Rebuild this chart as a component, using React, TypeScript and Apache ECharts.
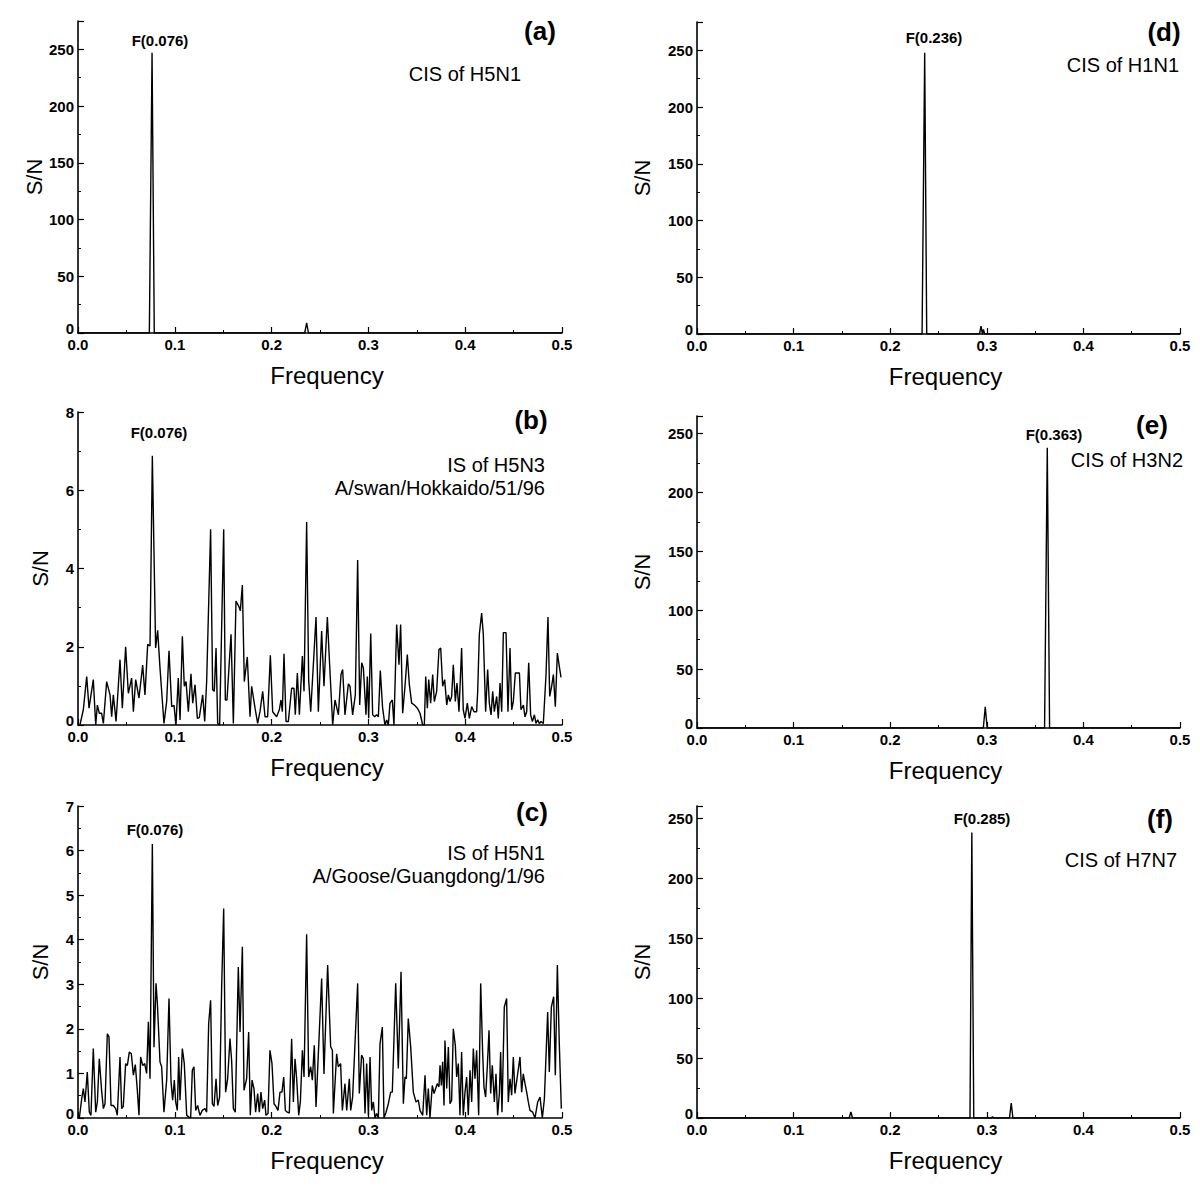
import React, { useEffect, useRef } from "react";
import * as echarts from "echarts";

// ---------- data ----------
const xTickLabels = ["0.0", "0.1", "0.2", "0.3", "0.4", "0.5"];

// (a) CIS of H5N1  [frequency, S/N]
const aPoints: number[][] = [
  [0, 0], [0.0737, 0], [0.0765, 247], [0.0788, 0], [0.2342, 0], [0.2362, 9], [0.2381, 0], [0.5, 0],
];

// (b) IS of H5N3 A/swan/Hokkaido/51/96
const bPoints: number[][] = [
  [0.002, 0], [0.0055, 0.39], [0.009, 1.24], [0.0114, 0.43], [0.0158, 1.16], [0.0183, 0], [0.02, 0.51], [0.022, 0.3],
  [0.0244, 0.3], [0.0262, 0.04], [0.0296, 1.11], [0.0331, 0.77], [0.0348, 0.21], [0.0365, 0.77], [0.0393, 0.09],
  [0.0434, 1.67], [0.0458, 0.43], [0.0492, 2.0], [0.052, 0.81], [0.0554, 1.2], [0.0572, 0.34], [0.0596, 1.16],
  [0.063, 0.69], [0.0668, 1.53], [0.0692, 0.77], [0.072, 2.06], [0.0744, 2.02], [0.0768, 6.88], [0.0802, 1.97],
  [0.0823, 2.42], [0.0847, 1.46], [0.0888, 0.04], [0.0916, 0.6], [0.094, 1.9], [0.0968, 0.47], [0.0992, 0.5],
  [0.1012, 0], [0.1036, 1.2], [0.1054, 0.13], [0.1078, 2.27], [0.1098, 0.99], [0.1116, 1.11], [0.114, 0.34],
  [0.1167, 1.31], [0.1185, 0.56], [0.1209, 1.03], [0.1233, 0.17], [0.1253, 0.19], [0.1288, 0.77], [0.1309, 0.09],
  [0.1329, 1.11], [0.137, 5.0], [0.1391, 0.9], [0.1408, 0.86], [0.1426, 1.97], [0.1443, 0.04], [0.1463, 0],
  [0.1505, 5.0], [0.1522, 0.64], [0.1539, 0.64], [0.1581, 2.32], [0.1605, 0.04], [0.1632, 3.17], [0.166, 3.04],
  [0.1677, 2.92], [0.1698, 3.58], [0.1718, 1.11], [0.1749, 1.74], [0.1777, 0.21], [0.1794, 0.99], [0.1829, 0.43],
  [0.1856, 0.04], [0.188, 0.34], [0.1908, 0.86], [0.1932, 0.21], [0.1959, 0.21], [0.1987, 1.78], [0.2011, 0.34],
  [0.2052, 0.21], [0.208, 0.39], [0.2097, 0.64], [0.2111, 0.34], [0.2128, 1.82], [0.2149, 0.09], [0.2173, 0.09],
  [0.2207, 0.94], [0.2231, 0.94], [0.2245, 0.26], [0.2266, 1.33], [0.2287, 0.26], [0.2318, 1.76], [0.2335, 0.86],
  [0.2362, 5.19], [0.2383, 1.16], [0.2404, 0.34], [0.2459, 2.76], [0.2483, 0.34], [0.2517, 2.4], [0.2541, 0.99],
  [0.2576, 2.76], [0.2596, 1.72], [0.2631, 0], [0.2655, 0.64], [0.269, 0.26], [0.2717, 1.29], [0.2734, 1.42],
  [0.2758, 0.26], [0.2793, 1.05], [0.281, 0.99], [0.2837, 0.26], [0.2865, 0.77], [0.2889, 4.22], [0.291, 0.51],
  [0.2931, 1.59], [0.2948, 1.46], [0.2975, 0.26], [0.2989, 1.24], [0.3003, 0.17], [0.3024, 2.34], [0.3044, 0.26],
  [0.3065, 0.21], [0.3085, 0.26], [0.3103, 0.21], [0.3123, 1.39], [0.3147, 0.43], [0.3171, 0], [0.3189, 0.13],
  [0.3206, 0], [0.3223, 0.56], [0.3247, 0.64], [0.3264, 0], [0.3292, 2.57], [0.3316, 1.54], [0.3333, 2.57],
  [0.3354, 0.3], [0.3378, 0.99], [0.3402, 1.8], [0.3423, 1.03], [0.3447, 0.56], [0.3475, 0.51], [0.3506, 0.43],
  [0.3533, 0.3], [0.3561, 0], [0.3578, 0], [0.3592, 1.24], [0.3609, 0.43], [0.3623, 1.16], [0.3643, 0.56],
  [0.3664, 1.29], [0.3681, 0.6], [0.3705, 0.86], [0.3729, 1.93], [0.3747, 1.97], [0.3767, 0.99], [0.3788, 1.16],
  [0.3809, 0.51], [0.3826, 0.77], [0.3843, 0.6], [0.386, 0.73], [0.3877, 1.54], [0.3898, 0.6], [0.3915, 1.07],
  [0.3936, 0.34], [0.3963, 1.97], [0.398, 0.39], [0.3998, 0.17], [0.4022, 0.56], [0.4043, 0.17], [0.4067, 0.47],
  [0.4091, 0.34], [0.4118, 0.34], [0.4129, 0.86], [0.4146, 2.32], [0.417, 2.86], [0.4187, 2.32], [0.4211, 0.34],
  [0.4232, 1.42], [0.4249, 0.56], [0.4267, 0.26], [0.4284, 0.86], [0.4301, 0.34], [0.4325, 0.73], [0.4342, 0.17],
  [0.436, 1.07], [0.4377, 0.34], [0.4394, 2.36], [0.4422, 2.36], [0.4442, 0.34], [0.4463, 1.97], [0.448, 0.39],
  [0.4497, 0.6], [0.4518, 1.33], [0.4539, 1.33], [0.456, 1.33], [0.4576, 0.39], [0.4601, 0.51], [0.4618, 0.21],
  [0.4635, 0.34], [0.4656, 1.59], [0.4676, 0.26], [0.4694, 0.09], [0.4715, 0.26], [0.4731, 0.04], [0.4749, 0.13],
  [0.4766, 0.04], [0.4783, 0.09], [0.4807, 0.04], [0.4835, 1.29], [0.4855, 2.76], [0.4873, 0.73], [0.4893, 0.99],
  [0.4911, 1.29], [0.4931, 0.47], [0.4952, 1.84], [0.4972, 1.5], [0.499, 1.22],
];

// (c) IS of H5N1 A/Goose/Guangdong/1/96
const cPoints: number[][] = [
  [0.0014, 0], [0.0038, 0.43], [0.0055, 0.66], [0.0072, 0.36], [0.0096, 1.03], [0.0117, 0.13], [0.0134, 0.06],
  [0.0158, 1.56], [0.0183, 0.13], [0.02, 0.36], [0.022, 1.33], [0.0244, 0.62], [0.0262, 0.21], [0.0279, 0.32],
  [0.0303, 1.89], [0.032, 1.82], [0.0341, 0.28], [0.0365, 0.28], [0.0389, 0.21], [0.0406, 0.06], [0.0434, 1.37],
  [0.0451, 0.21], [0.0468, 0.26], [0.0492, 1.22], [0.051, 1.18], [0.053, 1.48], [0.0551, 1.44], [0.0572, 0.96],
  [0.0592, 1.2], [0.0613, 0.62], [0.063, 0.06], [0.0647, 1.37], [0.0668, 1.18], [0.0689, 1.22], [0.0709, 1.0],
  [0.0727, 2.16], [0.0744, 0.88], [0.0768, 6.15], [0.0785, 1.59], [0.0806, 3.02], [0.082, 2.57], [0.0847, 1.26],
  [0.0864, 1.15], [0.0888, 0.13], [0.0916, 0.85], [0.094, 2.68], [0.0961, 0.81], [0.0978, 0.4], [0.0995, 0.85],
  [0.1009, 0.36], [0.1026, 0.17], [0.104, 1.37], [0.1054, 0.4], [0.1078, 1.56], [0.1098, 1.22], [0.1123, 0.06],
  [0.1147, 0.02], [0.1164, 0], [0.1181, 1.07], [0.1198, 1.15], [0.1216, 0.17], [0.1236, 0.28], [0.126, 0.06],
  [0.1284, 0.17], [0.1312, 0.21], [0.1329, 0.13], [0.135, 2.12], [0.137, 2.64], [0.1388, 0.32], [0.1405, 0.26],
  [0.1426, 0.88], [0.1443, 0.28], [0.1463, 0.47], [0.1484, 2.94], [0.1505, 4.7], [0.1525, 0.58], [0.1546, 0.88],
  [0.157, 1.78], [0.1587, 1.29], [0.1605, 0.21], [0.1625, 0.13], [0.1656, 3.39], [0.1674, 1.93], [0.1698, 3.84],
  [0.1715, 0.62], [0.1742, 0.88], [0.1763, 1.93], [0.178, 0.06], [0.1798, 0.85], [0.1818, 0.66], [0.1835, 0.13],
  [0.1856, 0.55], [0.1873, 0.13], [0.189, 0.58], [0.1908, 0.21], [0.1928, 0.4], [0.1942, 0.06], [0.1963, 0.1],
  [0.1983, 1.52], [0.2004, 1.22], [0.2025, 0.32], [0.2045, 0.26], [0.2066, 0.17], [0.2087, 0.58], [0.2107, 0.58],
  [0.2125, 0.92], [0.2142, 0.17], [0.2163, 0.13], [0.2183, 0.11], [0.2207, 1.78], [0.2225, 0.36], [0.2242, 1.33],
  [0.2259, 0.88], [0.228, 0.06], [0.2297, 0.36], [0.2318, 1.52], [0.2335, 0.92], [0.2362, 4.12], [0.2383, 0.92],
  [0.2404, 1.15], [0.2421, 0.85], [0.2441, 1.63], [0.2459, 0.25], [0.2517, 3.13], [0.2541, 0.99], [0.2579, 3.43],
  [0.261, 1.6], [0.2628, 1.52], [0.2638, 0.1], [0.2672, 1.44], [0.2689, 1.15], [0.2713, 1.22], [0.2731, 0.17],
  [0.2758, 0.77], [0.2776, 0.17], [0.2803, 0.88], [0.2817, 0.17], [0.2837, 0.47], [0.2889, 3.02], [0.2906, 0.55],
  [0.293, 1.41], [0.2948, 1.33], [0.2965, 0.1], [0.2982, 1.22], [0.3, 0.06], [0.3017, 1.37], [0.3034, 0.17],
  [0.3051, 0.36], [0.3068, 0], [0.3085, 0.1], [0.3103, 0], [0.312, 1.67], [0.3144, 2.04], [0.3161, 0],
  [0.3182, 0.13], [0.3206, 0.32], [0.323, 0.58], [0.3247, 0.58], [0.3282, 3.02], [0.3309, 1.11], [0.3337, 3.28],
  [0.3361, 0.32], [0.3378, 0.92], [0.3392, 0.88], [0.3412, 2.23], [0.3437, 1.59], [0.3464, 0.58], [0.3492, 0.36],
  [0.3516, 0.4], [0.3533, 0.17], [0.3561, 0.06], [0.3585, 0.96], [0.3602, 0.06], [0.3619, 0.66], [0.3636, 0],
  [0.366, 0.73], [0.3678, 0.55], [0.3695, 0.66], [0.3712, 0.77], [0.3729, 0.7], [0.374, 1.18], [0.3754, 0.73],
  [0.3767, 1.26], [0.3781, 0.28], [0.3791, 1.74], [0.3809, 0.66], [0.3826, 1.59], [0.3843, 0.32], [0.386, 0.4],
  [0.3877, 2.0], [0.3898, 1.63], [0.3912, 0.92], [0.3929, 1.22], [0.3946, 0.06], [0.3963, 1.48], [0.398, 0.06],
  [0.3998, 0.58], [0.4015, 0.92], [0.4032, 0.06], [0.405, 1.07], [0.4067, 0.36], [0.4084, 1.56], [0.4101, 0.88],
  [0.4118, 1.52], [0.4139, 0.06], [0.416, 3.02], [0.418, 1.48], [0.4194, 0.7], [0.4211, 0.47], [0.4229, 1.18],
  [0.4246, 1.97], [0.4263, 0.55], [0.428, 1.18], [0.4301, 0.36], [0.4318, 0.99], [0.4335, 0.06], [0.4353, 0.55],
  [0.4366, 1.48], [0.438, 0.13], [0.4404, 2.49], [0.4428, 2.68], [0.4445, 0.36], [0.4463, 0.88], [0.448, 0.51],
  [0.4497, 1.37], [0.4514, 0.55], [0.4566, 1.37], [0.4583, 0.58], [0.46, 0.99], [0.4618, 0.77], [0.4635, 0.58],
  [0.4652, 0.36], [0.4669, 0.17], [0.4697, 0.13], [0.4721, 0], [0.4749, 0.36], [0.4773, 0.47], [0.4797, 0],
  [0.4818, 0.43], [0.4852, 2.38], [0.4869, 1.03], [0.489, 2.49], [0.4914, 2.72], [0.4931, 0.96], [0.4952, 3.43],
  [0.4972, 1.67], [0.4993, 0.21],
];

// (d) CIS of H1N1
const dPoints: number[][] = [
  [0, 0], [0.233, 0], [0.2357, 248], [0.2378, 0], [0.2925, 0], [0.294, 7], [0.2955, 0], [0.2965, 4], [0.2978, 0], [0.5, 0],
];
// (e) CIS of H3N2
const ePoints: number[][] = [
  [0, 0], [0.2964, 0], [0.2984, 18], [0.3004, 0], [0.3598, 0], [0.3626, 238], [0.365, 0], [0.5, 0],
];
// (f) CIS of H7N7
const fPoints: number[][] = [
  [0, 0], [0.1575, 0], [0.1593, 5], [0.161, 0], [0.2826, 0], [0.2845, 238], [0.2865, 0], [0.305, 0], [0.306, 1],
  [0.307, 0], [0.3235, 0], [0.3253, 12.5], [0.327, 0], [0.5, 0],
];

const seriesData = [aPoints, bPoints, cPoints, dPoints, ePoints, fPoints];
const yMaxes = [275, 8, 7, 275, 265, 260];
const yIntervals = [50, 2, 1, 50, 50, 50];
const panelLetters = ["(a)", "(b)", "(c)", "(d)", "(e)", "(f)"];
const peakLabels = ["F(0.076)", "F(0.076)", "F(0.076)", "F(0.236)", "F(0.363)", "F(0.285)"];
const notes = [
  "CIS of H5N1",
  "IS of H5N3\nA/swan/Hokkaido/51/96",
  "IS of H5N1\nA/Goose/Guangdong/1/96",
  "CIS of H1N1",
  "CIS of H3N2",
  "CIS of H7N7",
];

// ---------- layout ----------
const grids = [
  { left: 78, top: 21, width: 484, height: 312 },
  { left: 78, top: 412, width: 484, height: 313 },
  { left: 78, top: 806, width: 484, height: 312 },
  { left: 697, top: 22, width: 483, height: 312 },
  { left: 697, top: 416, width: 483, height: 312 },
  { left: 697, top: 806, width: 483, height: 312 },
];
const yNameGaps = [27, 27, 27, 44, 44, 44];
const letterPos = [[540, 31], [531, 420], [532, 812], [1164, 32], [1152, 425], [1160, 819]];
const peakPos = [[160, 40], [159, 432], [155, 829], [934, 37], [1054, 434], [982, 818]];
const notePos = [[521, 74], [545, 476], [545, 864], [1179, 65], [1183, 460], [1177, 860]];

const FONT = "'Liberation Sans', Arial, Helvetica, sans-serif";

function buildOption() {
  const axisLine = { show: true, onZero: false, lineStyle: { color: "#000", width: 1.6 } };
  const axisTick = { show: true, inside: true, length: 6, lineStyle: { color: "#000", width: 1.2 } };
  const minorTick = { show: true, splitNumber: 2, length: 3, lineStyle: { color: "#000", width: 1 } };
  const labelStyle = {
    color: "#000",
    fontFamily: FONT,
    fontWeight: "bold" as const,
    fontSize: 15,
  };

  const xAxis = grids.map((_, i) => ({
    type: "value",
    gridIndex: i,
    min: 0,
    max: 0.5,
    interval: 0.1,
    axisLine,
    axisTick,
    minorTick,
    splitLine: { show: false },
    axisLabel: {
      ...labelStyle,
      margin: 5,
      lineHeight: 13,
      formatter: (v: number) => xTickLabels[Math.round(v * 10)] ?? "",
    },
    name: "Frequency",
    nameLocation: "middle",
    nameGap: 30,
    nameTextStyle: { color: "#000", fontFamily: FONT, fontSize: 24, padding: [0, 0, 0, 14] },
  }));

  const yAxis = grids.map((_, i) => ({
    type: "value",
    gridIndex: i,
    min: 0,
    max: yMaxes[i],
    interval: yIntervals[i],
    axisLine,
    axisTick,
    minorTick,
    splitLine: { show: false },
    axisLabel: {
      ...labelStyle,
      margin: 4,
      lineHeight: 13,
      showMaxLabel: yMaxes[i] % yIntervals[i] === 0,
      formatter: (v: number) => (v === 0 ? "{z|0}" : String(v)),
      rich: {
        z: { ...labelStyle, lineHeight: 12, padding: [0, 0, 9, 0] },
      },
    },
    name: "S/N",
    nameLocation: "middle",
    nameGap: yNameGaps[i],
    nameTextStyle: { color: "#000", fontFamily: FONT, fontSize: 22 },
  }));

  const series = seriesData.map((pts, i) => ({
    type: "line",
    xAxisIndex: i,
    yAxisIndex: i,
    data: pts,
    showSymbol: false,
    symbol: "none",
    silent: true,
    lineStyle: { color: "#000", width: 1.4 },
  }));

  const graphic: any[] = [];
  for (let i = 0; i < 6; i++) {
    graphic.push({
      type: "text",
      x: letterPos[i][0],
      y: letterPos[i][1],
      style: {
        text: panelLetters[i],
        fontFamily: FONT,
        fontWeight: "bold",
        fontSize: 26,
        fill: "#000",
        align: "center",
        verticalAlign: "middle",
      },
    });
    graphic.push({
      type: "text",
      x: peakPos[i][0],
      y: peakPos[i][1],
      style: {
        text: peakLabels[i],
        fontFamily: FONT,
        fontWeight: "bold",
        fontSize: 15,
        fill: "#000",
        align: "center",
        verticalAlign: "middle",
      },
    });
    graphic.push({
      type: "text",
      x: notePos[i][0],
      y: notePos[i][1],
      style: {
        text: notes[i],
        fontFamily: FONT,
        fontSize: 20,
        lineHeight: 23,
        fill: "#000",
        align: "right",
        verticalAlign: "middle",
      },
    });
  }

  return {
    animation: false,
    backgroundColor: "#fff",
    grid: grids.map((g) => ({ ...g, containLabel: false })),
    xAxis,
    yAxis,
    series,
    graphic,
  };
}

export default function App() {
  const ref = useRef<HTMLDivElement>(null);
  useEffect(() => {
    if (!ref.current) return;
    const chart = echarts.init(ref.current, null, { renderer: "svg" });
    chart.setOption(buildOption() as any);
    return () => chart.dispose();
  }, []);
  return (
    <div
      ref={ref}
      style={{ position: "absolute", left: 0, top: 0, width: 1200, height: 1197, background: "#fff" }}
    />
  );
}
